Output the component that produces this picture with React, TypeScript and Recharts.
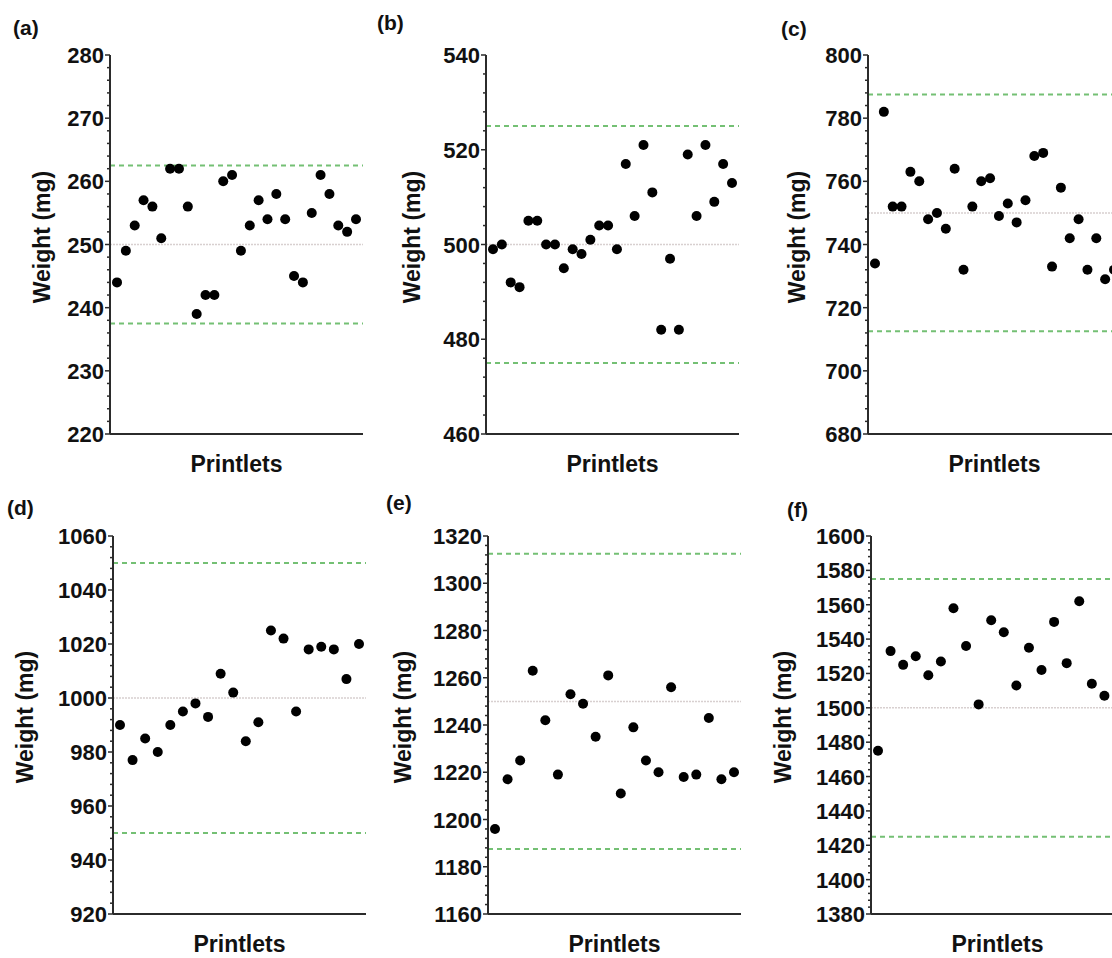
import React from "react"
import { ScatterChart, Scatter, XAxis, YAxis, ReferenceLine } from "recharts"

// printlet weights (mg)
const weightsA = [244, 249, 253, 257, 256, 251, 262, 262, 256, 239, 242, 242, 260, 261, 249, 253, 257, 254, 258, 254, 245, 244, 255, 261, 258, 253, 252, 254]
const weightsB = [499, 500, 492, 491, 505, 505, 500, 500, 495, 499, 498, 501, 504, 504, 499, 517, 506, 521, 511, 482, 497, 482, 519, 506, 521, 509, 517, 513]
const weightsC = [734, 782, 752, 752, 763, 760, 748, 750, 745, 764, 732, 752, 760, 761, 749, 753, 747, 754, 768, 769, 733, 758, 742, 748, 732, 742, 729, 732]
const weightsD = [990, 977, 985, 980, 990, 995, 998, 993, 1009, 1002, 984, 991, 1025, 1022, 995, 1018, 1019, 1018, 1007, 1020]
const weightsE = [1196, 1217, 1225, 1263, 1242, 1219, 1253, 1249, 1235, 1261, 1211, 1239, 1225, 1220, 1256, 1218, 1219, 1243, 1217, 1220]
const weightsF = [1475, 1533, 1525, 1530, 1519, 1527, 1558, 1536, 1502, 1551, 1544, 1513, 1535, 1522, 1550, 1526, 1562, 1514, 1507, 1571]

const panelLabels = ["(a)", "(b)", "(c)", "(d)", "(e)", "(f)"]
const targets = [250, 500, 750, 1000, 1250, 1500]
const lowerLimits = [237.5, 475, 712.5, 950, 1187.5, 1425]
const upperLimits = [262.5, 525, 787.5, 1050, 1312.5, 1575]
const yMins = [220, 460, 680, 920, 1160, 1380]
const yMaxs = [280, 540, 800, 1060, 1320, 1600]
const majorSteps = [10, 20, 20, 20, 20, 20]
const minorSteps = [2, 4, 4, 4, 4, 4]

const allWeights = [weightsA, weightsB, weightsC, weightsD, weightsE, weightsF]

// layout of each plot area on the page
const layout = [
  { left: 110, top: 55, bottom: 434, labelX: 13, labelY: 28, titleX: 42 },
  { left: 486, top: 55, bottom: 434, labelX: 377, labelY: 23, titleX: 412 },
  { left: 868, top: 55, bottom: 434, labelX: 781, labelY: 29, titleX: 797 },
  { left: 113, top: 536, bottom: 914, labelX: 7, labelY: 508, titleX: 25 },
  { left: 488, top: 536, bottom: 914, labelX: 386, labelY: 503, titleX: 403 },
  { left: 871, top: 536, bottom: 914, labelX: 787, labelY: 510, titleX: 783 },
]

const PLOT_W = 253
const AXIS_W = 100
const FONT = "'Liberation Sans', Arial, sans-serif"
const AXIS_COLOR = "#2b2b2b"

function WeightTick({ x, y, payload, major }: any) {
  const isMajor = payload.value % major === 0
  return (
    <g>
      <line x1={x} x2={x - (isMajor ? 5 : 3)} y1={y} y2={y} stroke={AXIS_COLOR} strokeWidth={1.5} />
      {isMajor && (
        <text x={x - 6} y={y} dy={8} textAnchor="end" fontSize={22} fontWeight={700} fill="#111" fontFamily={FONT}>
          {payload.value}
        </text>
      )}
    </g>
  )
}

function Panel({ idx }: { idx: number }) {
  const pos = layout[idx]
  const data = allWeights[idx].map((w, i) => ({ i: i + 1, w }))
  const ticks: number[] = []
  for (let v = yMins[idx]; v <= yMaxs[idx]; v += minorSteps[idx]) ticks.push(v)
  const plotH = pos.bottom - pos.top
  const mt = 15
  const mb = 20
  const xh = 5
  const w = AXIS_W + PLOT_W + 10
  const h = plotH + mt + mb + xh

  return (
    <>
      <div style={{ position: "absolute", left: pos.left - AXIS_W, top: pos.top - mt }}>
        <ScatterChart width={w} height={h} margin={{ top: mt, right: 10, bottom: mb, left: 0 }}>
          <XAxis
            type="number"
            dataKey="i"
            domain={[1, allWeights[idx].length]}
            padding={{ left: 7, right: 7 }}
            tick={false}
            tickLine={false}
            height={xh}
            axisLine={{ stroke: AXIS_COLOR, strokeWidth: 2 }}
          />
          <YAxis
            type="number"
            dataKey="w"
            domain={[yMins[idx], yMaxs[idx]]}
            ticks={ticks}
            interval={0}
            width={AXIS_W}
            tickSize={0}
            tickMargin={0}
            tickLine={false}
            axisLine={{ stroke: AXIS_COLOR, strokeWidth: 2 }}
            tick={<WeightTick major={majorSteps[idx]} />}
          />
          <ReferenceLine y={targets[idx]} stroke="#d8d0d0" strokeWidth={1.5} strokeDasharray="2 1" />
          <ReferenceLine y={upperLimits[idx]} stroke="#74c074" strokeWidth={2} strokeDasharray="5 4" />
          <ReferenceLine y={lowerLimits[idx]} stroke="#74c074" strokeWidth={2} strokeDasharray="5 4" />
          <Scatter
            data={data}
            isAnimationActive={false}
            shape={(p: any) => <circle cx={p.cx} cy={p.cy} r={5} fill="#000" />}
          />
        </ScatterChart>
      </div>
      <div
        style={{
          position: "absolute",
          left: pos.labelX,
          top: pos.labelY,
          transform: "translateY(-50%)",
          fontFamily: FONT,
          fontWeight: 700,
          fontSize: 21,
          color: "#111",
        }}
      >
        {panelLabels[idx]}
      </div>
      <div
        style={{
          position: "absolute",
          left: pos.titleX,
          top: (pos.top + pos.bottom) / 2 - 8,
          transform: "translate(-50%, -50%) rotate(-90deg)",
          whiteSpace: "nowrap",
          fontFamily: FONT,
          fontWeight: 700,
          fontSize: 23,
          color: "#111",
        }}
      >
        Weight (mg)
      </div>
      <div
        style={{
          position: "absolute",
          left: pos.left + PLOT_W / 2,
          top: pos.bottom + 30,
          transform: "translate(-50%, -50%)",
          whiteSpace: "nowrap",
          fontFamily: FONT,
          fontWeight: 700,
          fontSize: 23,
          color: "#111",
        }}
      >
        Printlets
      </div>
    </>
  )
}

export default function App() {
  return (
    <div
      style={{
        position: "absolute",
        left: 0,
        top: 0,
        width: 1112,
        height: 958,
        overflow: "hidden",
        background: "#fff",
      }}
    >
      {panelLabels.map((_, i) => (
        <Panel key={i} idx={i} />
      ))}
    </div>
  )
}
